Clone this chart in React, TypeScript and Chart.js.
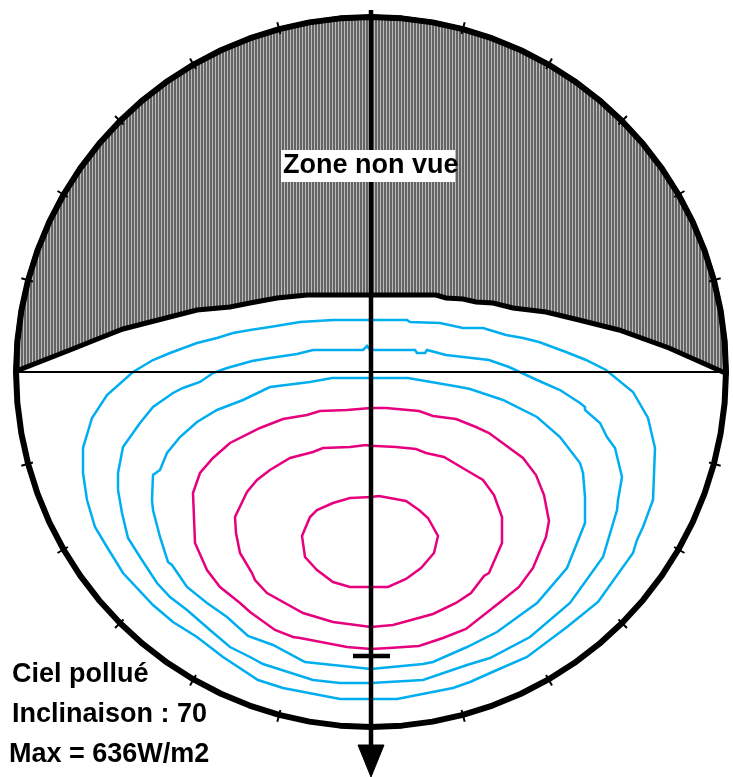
import React, { useEffect, useRef } from "react";
import { Chart, registerables } from "chart.js";

Chart.register(...registerables);

type Pt = [number, number];

// Sky projection: centre of the horizon circle at (0, 0); +x = right (east), +y = up.
const HORIZON_RADIUS = 355;
const TICK_STEP_DEG = 15;
const X_RANGE: [number, number] = [-371, 362];
const Y_RANGE: [number, number] = [-405, 372];

// Irradiance isolines (inner -> outer)
const isoMagenta1: Pt[] = [
  [0, -125], [8, -124], [35, -129], [48, -138], [57, -146], [67, -164], [63, -181], [50, -196],
  [35, -207], [17, -215], [0, -215], [-21, -215], [-38, -210], [-54, -198], [-66, -185], [-69, -164],
  [-61, -145], [-54, -138], [-38, -131], [-21, -126],
];
const isoMagenta2: Pt[] = [
  [0, -74], [5, -74], [25, -75], [45, -77], [55, -81], [73, -85], [95, -98], [112, -108], [123, -123],
  [131, -145], [131, -171], [118, -201], [113, -204], [100, -221], [85, -231], [62, -242], [22, -253],
  [0, -255], [-38, -250], [-68, -241], [-104, -221], [-116, -208], [-119, -201], [-131, -181],
  [-135, -161], [-136, -145], [-124, -120], [-114, -108], [-101, -98], [-81, -86], [-58, -80],
  [-48, -76], [-21, -75], [-5, -73],
];
const isoMagenta3: Pt[] = [
  [0, -36], [15, -36], [48, -39], [62, -44], [85, -47], [105, -55], [118, -61], [152, -86], [165, -103],
  [173, -123], [178, -149], [175, -165], [162, -196], [148, -215], [128, -231], [95, -257], [72, -266],
  [48, -274], [18, -276], [0, -277], [-24, -275], [-71, -266], [-78, -265], [-96, -258], [-121, -240],
  [-131, -231], [-151, -215], [-164, -198], [-176, -171], [-178, -121], [-171, -101], [-158, -86],
  [-141, -71], [-111, -56], [-88, -47], [-64, -43], [-51, -39], [-24, -38],
];
const isoCyan1: Pt[] = [
  [0, -6], [37, -6], [89, -15], [99, -17], [132, -28], [166, -45], [189, -65], [209, -91], [212, -101],
  [214, -125], [214, -151], [196, -196], [166, -231], [126, -260], [96, -275], [62, -290], [52, -292],
  [0, -297], [-38, -293], [-66, -290], [-98, -273], [-123, -264], [-144, -245], [-164, -231],
  [-184, -215], [-199, -193], [-203, -190], [-211, -165], [-218, -138], [-219, -128], [-218, -103],
  [-211, -98], [-204, -81], [-191, -65], [-174, -50], [-154, -38], [-128, -28], [-101, -15],
  [-61, -10], [-39, -6],
];
const isoCyan2: Pt[] = [
  [-1, 22], [44, 22], [46, 19], [54, 19], [56, 22], [75, 17], [118, 12], [138, 5], [166, -8], [189, -18],
  [209, -31], [214, -35], [214, -38], [229, -51], [236, -65], [244, -76], [251, -105], [247, -128],
  [246, -138], [232, -185], [199, -231], [159, -265], [119, -286], [96, -293], [52, -308], [0, -311],
  [-31, -311], [-58, -308], [-108, -292], [-121, -285], [-141, -275], [-161, -258], [-184, -238],
  [-201, -225], [-214, -211], [-231, -185], [-243, -166], [-249, -141], [-253, -118], [-253, -101],
  [-248, -75], [-231, -51], [-218, -35], [-198, -21], [-188, -16], [-171, -10], [-158, -1], [-144, 4],
  [-119, 11], [-101, 14], [-74, 18], [-58, 22], [-8, 22], [-4, 26],
];
const isoCyan3: Pt[] = [
  [0, 52], [36, 52], [39, 50], [69, 49], [92, 44], [112, 44], [135, 37], [152, 34], [168, 30], [195, 20],
  [215, 12], [235, 2], [262, -20], [277, -46], [284, -76], [282, -128], [272, -155], [266, -168],
  [262, -181], [227, -230], [196, -255], [156, -285], [126, -298], [99, -310], [82, -316], [26, -327],
  [0, -327], [-31, -327], [-88, -316], [-113, -308], [-148, -285], [-174, -265], [-198, -250],
  [-218, -233], [-248, -201], [-264, -175], [-276, -155], [-284, -128], [-288, -101], [-288, -76],
  [-279, -46], [-264, -23], [-238, 0], [-218, 12], [-201, 19], [-174, 29], [-154, 34], [-138, 39],
  [-121, 42], [-101, 45], [-71, 50], [-38, 52],
];

// Lower edge of the hidden zone, east -> west
const hiddenZoneEdge: Pt[] = [
  [352, 0], [298, 24], [248, 42], [208, 52], [175, 60], [142, 64], [122, 69], [105, 70], [92, 73],
  [75, 74], [65, 77], [0, 77], [-64, 77], [-94, 74], [-121, 69], [-141, 65], [-174, 62], [-248, 43],
  [-271, 34], [-301, 22], [-352, 2],
];

// Axes / markers
const horizonLine: Pt[] = [[-358, 0], [358, 0]];
const meridianLine: Pt[] = [[0, 362], [0, -373]];
const meridianArrow: Pt[] = [[-13, -373], [13, -373], [0, -405], [-13, -373]];
const maxMarker: Pt[] = [[-18, -284], [19, -284]];

const hiddenZoneLabel = "Zone non vue";
const infoLines = ["Ciel pollué", "Inclinaison : 70", "Max = 636W/m2"];

const CYAN = "#00AEEF";
const MAGENTA = "#E6007E";
const FONT = 'bold 27px "Liberation Sans", Arial, sans-serif';

const toXY = (pts: Pt[], close = false) => {
  const d = pts.map(([x, y]) => ({ x, y }));
  if (close) d.push({ ...d[0] });
  return d;
};

const rad = (deg: number) => (deg * Math.PI) / 180;

export default function App() {
  const canvasRef = useRef<HTMLCanvasElement | null>(null);

  useEffect(() => {
    const canvas = canvasRef.current;
    if (!canvas) return;
    const ctx = canvas.getContext("2d")!;

    const pc = document.createElement("canvas");
    pc.width = 3;
    pc.height = 4;
    const pctx = pc.getContext("2d")!;
    pctx.fillStyle = "#646464";
    pctx.fillRect(0, 0, 3, 4);
    pctx.fillStyle = "#bcbcbc";
    pctx.fillRect(2, 0, 1, 4);
    const hatch = ctx.createPattern(pc, "repeat");

    const circle: { x: number; y: number }[] = [];
    for (let a = 0; a <= 360; a += 5) {
      circle.push({ x: HORIZON_RADIUS * Math.sin(rad(a)), y: HORIZON_RADIUS * Math.cos(rad(a)) });
    }
    const upperArc: { x: number; y: number }[] = [];
    for (let a = -90; a <= 90; a += 5) {
      upperArc.push({ x: HORIZON_RADIUS * Math.sin(rad(a)), y: HORIZON_RADIUS * Math.cos(rad(a)) });
    }
    const hiddenZone = [...upperArc, ...toXY(hiddenZoneEdge)];
    hiddenZone.push({ ...hiddenZone[0] });

    const ticks: { x: number | null; y: number | null }[] = [];
    for (let a = TICK_STEP_DEG; a < 360; a += TICK_STEP_DEG) {
      if (a % 90 === 0) continue;
      const s = Math.sin(rad(a));
      const c = Math.cos(rad(a));
      ticks.push({ x: (HORIZON_RADIUS - 5) * s, y: (HORIZON_RADIUS - 5) * c });
      ticks.push({ x: (HORIZON_RADIUS + 7) * s, y: (HORIZON_RADIUS + 7) * c });
      ticks.push({ x: null, y: null });
    }

    const base = {
      showLine: true,
      pointRadius: 0,
      pointHoverRadius: 0,
      tension: 0,
      fill: false,
      spanGaps: false,
    };

    const labelPlugin = {
      id: "skyLabels",
      afterDraw(chart: any) {
        const c2 = chart.ctx as CanvasRenderingContext2D;
        const xs = chart.scales.x;
        const ys = chart.scales.y;
        c2.save();
        c2.font = FONT;
        c2.textAlign = "left";
        c2.textBaseline = "alphabetic";
        const bx0 = xs.getPixelForValue(-90);
        const bx1 = xs.getPixelForValue(84);
        const by0 = ys.getPixelForValue(222);
        const by1 = ys.getPixelForValue(190);
        c2.fillStyle = "#ffffff";
        c2.fillRect(bx0, by0, bx1 - bx0, by1 - by0);
        c2.fillStyle = "#000000";
        c2.fillText(hiddenZoneLabel, xs.getPixelForValue(-88), ys.getPixelForValue(199));
        const lefts = [-359, -359, -362];
        infoLines.forEach((t, i) => {
          c2.fillText(t, xs.getPixelForValue(lefts[i]), ys.getPixelForValue(-310 - 40 * i));
        });
        c2.restore();
      },
    };

    const chart = new Chart(ctx, {
      type: "scatter",
      data: {
        datasets: [
          { ...base, data: toXY(meridianArrow), borderColor: "#000", borderWidth: 1, backgroundColor: "#000", fill: "shape", order: 0 },
          { ...base, data: toXY(meridianLine), borderColor: "#000", borderWidth: 4.5, order: 1 },
          { ...base, data: toXY(maxMarker), borderColor: "#000", borderWidth: 4.5, order: 1 },
          { ...base, data: ticks, borderColor: "#000", borderWidth: 2, order: 2 },
          { ...base, data: circle, borderColor: "#000", borderWidth: 6, borderJoinStyle: "round", order: 3 },
          { ...base, data: toXY(horizonLine), borderColor: "#000", borderWidth: 2, order: 4 },
          { ...base, data: toXY(isoMagenta1, true), borderColor: MAGENTA, borderWidth: 2.5, order: 5 },
          { ...base, data: toXY(isoMagenta2, true), borderColor: MAGENTA, borderWidth: 2.5, order: 5 },
          { ...base, data: toXY(isoMagenta3, true), borderColor: MAGENTA, borderWidth: 2.5, order: 5 },
          { ...base, data: toXY(isoCyan1, true), borderColor: CYAN, borderWidth: 2.5, order: 5 },
          { ...base, data: toXY(isoCyan2, true), borderColor: CYAN, borderWidth: 2.5, order: 5 },
          { ...base, data: toXY(isoCyan3, true), borderColor: CYAN, borderWidth: 2.5, order: 5 },
          { ...base, data: hiddenZone, borderColor: "#000", borderWidth: 5, backgroundColor: hatch, fill: "shape", order: 6 },
        ] as any,
      },
      options: {
        animation: false,
        responsive: false,
        events: [],
        layout: { padding: 0 },
        plugins: { legend: { display: false }, tooltip: { enabled: false }, title: { display: false } },
        scales: {
          x: { type: "linear", min: X_RANGE[0], max: X_RANGE[1], display: false },
          y: { type: "linear", min: Y_RANGE[0], max: Y_RANGE[1], display: false },
        },
      },
      plugins: [labelPlugin],
    });

    return () => chart.destroy();
  }, []);

  return (
    <div style={{ position: "absolute", left: 0, top: 0, width: 733, height: 777, background: "#fff" }}>
      <canvas ref={canvasRef} width={733} height={777} style={{ display: "block", width: 733, height: 777 }} />
    </div>
  );
}
